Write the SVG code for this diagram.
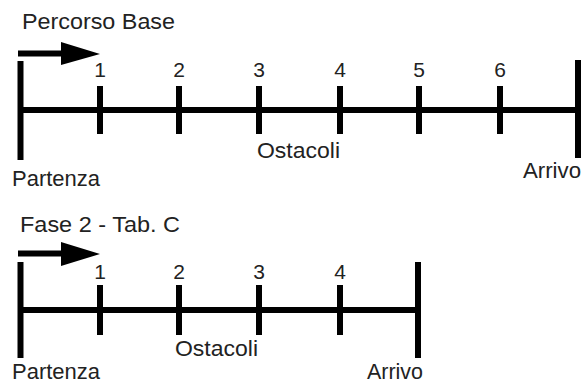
<svg xmlns="http://www.w3.org/2000/svg" width="581" height="383" viewBox="0 0 581 383">
<style>
  .ln { stroke: #000; stroke-width: 6; fill: none; }
  .ar { fill: #000; }
  text { font-family: "Liberation Sans", Arial, sans-serif; font-size: 22px; fill: #222; }
  .num { text-anchor: middle; font-size: 21px; }
</style>
<rect width="581" height="383" fill="#fff"/>
<g id="top">
  <text x="22" y="29" textLength="153" lengthAdjust="spacingAndGlyphs">Percorso Base</text>
  <g id="connectors-top">
    <line class="ln" x1="20" y1="110" x2="578" y2="110"/>
    <line class="ln" x1="18" y1="53.5" x2="64" y2="53.5"/>
    <polygon class="ar" points="61,42 100,54 61,65"/>
  </g>
  <g id="start-top"><line class="ln" x1="20.5" y1="61" x2="20.5" y2="160"/><text x="12" y="186" textLength="88" lengthAdjust="spacingAndGlyphs">Partenza</text></g>
  <g id="t1"><line class="ln" x1="100" y1="86" x2="100" y2="134"/><text class="num" x="100" y="77">1</text></g>
  <g id="t2"><line class="ln" x1="179" y1="86" x2="179" y2="134"/><text class="num" x="179" y="77">2</text></g>
  <g id="t3"><line class="ln" x1="259" y1="86" x2="259" y2="134"/><text class="num" x="259" y="77">3</text></g>
  <g id="t4"><line class="ln" x1="340" y1="86" x2="340" y2="134"/><text class="num" x="340" y="77">4</text></g>
  <g id="t5"><line class="ln" x1="419" y1="86" x2="419" y2="134"/><text class="num" x="419" y="77">5</text></g>
  <g id="t6"><line class="ln" x1="500" y1="86" x2="500" y2="134"/><text class="num" x="500" y="77">6</text></g>
  <text x="257" y="158" textLength="83" lengthAdjust="spacingAndGlyphs">Ostacoli</text>
  <g id="end-top"><line class="ln" x1="578" y1="60" x2="578" y2="158"/><text x="523" y="178" textLength="58" lengthAdjust="spacingAndGlyphs">Arrivo</text></g>
</g>
<g id="bottom">
  <text x="20" y="232" textLength="160" lengthAdjust="spacingAndGlyphs">Fase 2 - Tab. C</text>
  <g id="connectors-bottom">
    <line class="ln" x1="20" y1="310" x2="418" y2="310"/>
    <line class="ln" x1="18" y1="253.5" x2="64" y2="253.5"/>
    <polygon class="ar" points="61,242 100,254 61,266"/>
  </g>
  <g id="start-bottom"><line class="ln" x1="20.5" y1="262" x2="20.5" y2="358"/><text x="12" y="379" textLength="88" lengthAdjust="spacingAndGlyphs">Partenza</text></g>
  <g id="b1"><line class="ln" x1="100" y1="285" x2="100" y2="335"/><text class="num" x="100" y="279">1</text></g>
  <g id="b2"><line class="ln" x1="179" y1="285" x2="179" y2="335"/><text class="num" x="179" y="279">2</text></g>
  <g id="b3"><line class="ln" x1="259" y1="285" x2="259" y2="335"/><text class="num" x="259" y="279">3</text></g>
  <g id="b4"><line class="ln" x1="340" y1="285" x2="340" y2="335"/><text class="num" x="340" y="279">4</text></g>
  <text x="175" y="356" textLength="83" lengthAdjust="spacingAndGlyphs">Ostacoli</text>
  <g id="end-bottom"><line class="ln" x1="418" y1="262" x2="418" y2="358"/><text x="367" y="379" textLength="56" lengthAdjust="spacingAndGlyphs">Arrivo</text></g>
</g>
</svg>
